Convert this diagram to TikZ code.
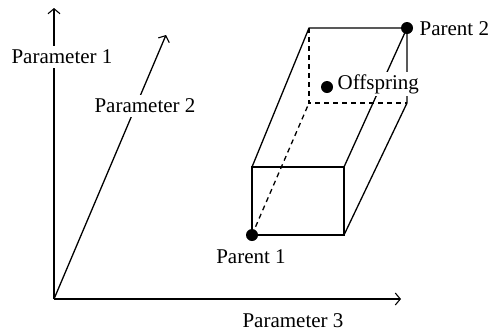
\documentclass[tikz,border=0pt]{standalone}
\usepackage{fontspec}
\setmainfont{Liberation Serif}
\usetikzlibrary{arrows.meta}
\begin{document}
\begin{tikzpicture}[x=1pt,y=-1pt,
  line width=1.3pt,
  axis/.style={-{Straight Barb[length=5pt,width=12pt,line width=1.1pt]}},
  lbl/.style={font=\fontsize{21}{24}\selectfont, inner sep=1pt},
  gaplbl/.style={lbl, fill=white, inner sep=4pt},
  dot/.style={circle, fill=black, inner sep=0pt, minimum size=12pt},
  hidden/.style={dash pattern=on 5pt off 4pt}]
\useasboundingbox (0,0) rectangle (497,333);
% axes
\coordinate (O) at (54,299);
\coordinate (A1) at (54,8);
\coordinate (A2) at (166,35);
\coordinate (A3) at (401,299);
\draw[axis] (O) -- (A1);
\draw[axis] (O) -- (A2);
\draw[axis] (O) -- (A3);
\node[gaplbl] (p1) at (62,57) {Parameter 1};
\node[gaplbl] (p2) at (145,106) {Parameter 2};
\node[lbl] (p3) at (293,321) {Parameter 3};
% box corners
\coordinate (F1) at (252,235);
\coordinate (F2) at (344,235);
\coordinate (F3) at (344,167);
\coordinate (F4) at (252,167);
\coordinate (B1) at (309,103);
\coordinate (B2) at (407,103);
\coordinate (B3) at (407,28);
\coordinate (B4) at (309,28);
\draw (F1) -- (F2) -- (F3) -- (F4) -- cycle;
\draw (F4) -- (B4) -- (B3) -- (B2) -- (F2);
\draw (F3) -- (B3);
\draw[hidden] (B4) -- (B1) -- (B2);
\draw[hidden] (F1) -- (B1);
% points
\node[dot] (par1) at (F1) {};
\node[dot] (par2) at (B3) {};
\node[dot] (off) at (327,87) {};
\node[lbl] (par1l) at (251,257) {Parent 1};
\node[lbl, anchor=west] (par2l) at (418,29) {Parent 2};
\node[lbl, anchor=west, fill=white, inner sep=2pt] (offl) at (335,84) {Offspring};
\end{tikzpicture}
\end{document}
